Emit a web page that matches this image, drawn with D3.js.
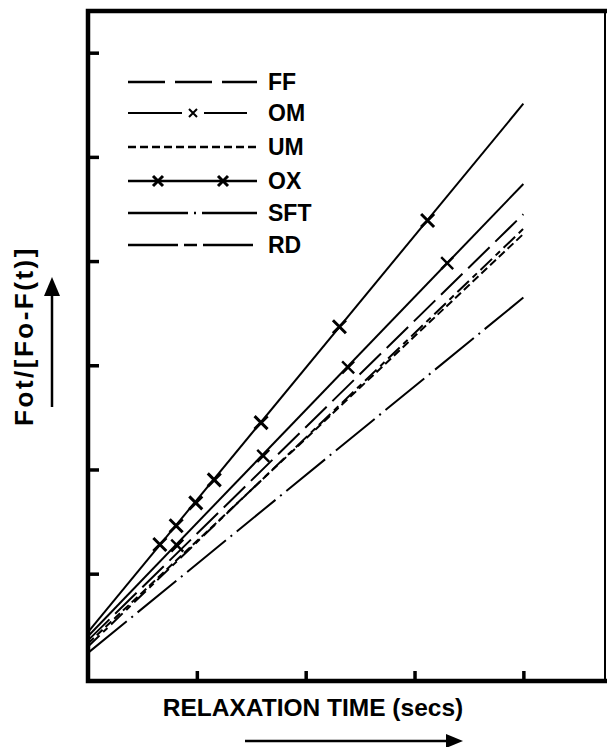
<!DOCTYPE html>
<meta charset="utf-8">
<title>Relaxation time</title>
<style>
  body { margin: 0; background: #fff; }
  text { font-family: "Liberation Sans", Arial, sans-serif; font-weight: bold; fill: #000; }
</style>
<body>
  <script src="https://d3js.org/d3.v7.min.js"></script>
  <script>
    const width = 607;
    const height = 747;

    // series (y at x = 0 and at x = 4)
    const seriesNames = ["FF", "OM", "UM", "OX", "SFT", "RD"];
    const startY = [0.36, 0.40, 0.33, 0.44, 0.24, 0.30];
    const endY = [4.45, 4.74, 4.26, 5.51, 3.65, 4.31];
    const startX = 0;
    const endX = 4;

    // marked points
    const oxMarkX = [0.66, 0.81, 0.99, 1.16, 1.59, 2.31, 3.12];
    const oxMarkY = [1.28, 1.46, 1.68, 1.90, 2.45, 3.37, 4.39];
    const omMarkX = [0.82, 1.61, 2.39, 3.30];
    const omMarkY = [1.27, 2.13, 2.98, 3.98];

    const xTicks = [1, 2, 3, 4];
    const yTicks = [1, 2, 3, 4, 5, 6];

    // dash styles for each series
    const dashes = {
      FF: "30,8",
      OM: null,
      UM: "8,4",
      OX: null,
      SFT: "50,6,2,6",
      RD: "16,5,6,5"
    };
    // legend samples only show one break
    const legDashes = {
      FF: "37,10",
      UM: "8,4",
      OX: null,
      SFT: "60,6,2,6",
      RD: "50,6,13,6"
    };

    const svg = d3.select("body")
    .append("svg")
    .attr("width", width)
    .attr("height", height);

    const xScale = d3.scaleLinear()
    .domain([0, 4.75])
    .range([88, 605]);

    const yScale = d3.scaleLinear()
    .domain([-0.03, 6.4])
    .range([681, 11]);

    // series lines
    const lineData = seriesNames.map((n, i) => ({
      name: n,
      pts: [[startX, startY[i]], [endX, endY[i]]]
    }));

    const line = d3.line()
    .x(d => xScale(d[0]))
    .y(d => yScale(d[1]));

    svg.append("g")
    .selectAll("path")
    .data(lineData)
    .enter()
    .append("path")
    .attr("d", d => line(d.pts))
    .attr("fill", "none")
    .attr("stroke", "#000")
    .attr("stroke-width", 2)
    .attr("stroke-dasharray", d => dashes[d.name]);

    // x marker helper
    function cross(g, x, y, r, w) {
      g.append("path")
      .attr("d", `M${x - r},${y - r}L${x + r},${y + r}M${x - r},${y + r}L${x + r},${y - r}`)
      .attr("stroke", "#000")
      .attr("stroke-width", w)
      .attr("fill", "none");
    }

    const marks = svg.append("g");
    oxMarkX.forEach((v, i) => cross(marks, xScale(v), yScale(oxMarkY[i]), 6.5, 3));
    omMarkX.forEach((v, i) => cross(marks, xScale(v), yScale(omMarkY[i]), 6, 2.4));

    // frame
    svg.append("path")
    .attr("d", `M${xScale(0)},${yScale(6.4)}V${yScale(-0.03)}H${xScale(4.75)}M${xScale(0)},${yScale(6.4)}H${xScale(4.75)}`)
    .attr("fill", "none")
    .attr("stroke", "#000")
    .attr("stroke-width", 4.5)
    .attr("stroke-linecap", "square");
    svg.append("line")
    .attr("x1", xScale(4.75)).attr("x2", xScale(4.75))
    .attr("y1", yScale(6.4)).attr("y2", yScale(-0.03))
    .attr("stroke", "#000")
    .attr("stroke-width", 2);

    // inward ticks, no labels
    const xAxis = d3.axisTop(xScale).tickValues(xTicks).tickSize(10).tickFormat("");
    const yAxis = d3.axisRight(yScale).tickValues(yTicks).tickSize(11).tickFormat("");

    svg.append("g")
    .attr("transform", `translate(0,${yScale(-0.03)})`)
    .call(xAxis)
    .call(g => g.select(".domain").remove())
    .call(g => g.selectAll("line").attr("stroke-width", 3.5));

    svg.append("g")
    .attr("transform", `translate(${xScale(0)},0)`)
    .call(yAxis)
    .call(g => g.select(".domain").remove())
    .call(g => g.selectAll("line").attr("stroke-width", 3.5));

    // legend
    const legY = [82, 113, 147, 181, 213, 245];
    const leg = svg.append("g");
    seriesNames.forEach((n, i) => {
      const y = legY[i];
      if (n === "OM") {
        leg.append("path")
        .attr("d", `M128,${y}H182M204,${y}H247`)
        .attr("stroke", "#000").attr("stroke-width", 2.2);
        cross(leg, 193, y, 4, 2);
      } else {
        leg.append("line")
        .attr("x1", 128).attr("x2", 257)
        .attr("y1", y).attr("y2", y)
        .attr("stroke", "#000")
        .attr("stroke-width", 2.4)
        .attr("stroke-dasharray", legDashes[n]);
        if (n === "OX") {
          cross(leg, 158, y, 5, 3);
          cross(leg, 223, y, 5, 3);
        }
      }
      leg.append("text")
      .attr("x", 268)
      .attr("y", y + 8)
      .style("font-size", "23px")
      .text(n);
    });

    // axis titles
    svg.append("text")
    .attr("x", 313)
    .attr("y", 716)
    .attr("text-anchor", "middle")
    .style("font-size", "24.5px")
    .text("RELAXATION TIME (secs)");

    svg.append("text")
    .attr("transform", "translate(33,336) rotate(-90)")
    .attr("text-anchor", "middle")
    .style("font-size", "26px")
    .style("letter-spacing", "2.5px")
    .text("Fot/[Fo-F(t)]");

    // arrows
    svg.append("line")
    .attr("x1", 245).attr("x2", 450)
    .attr("y1", 741).attr("y2", 741)
    .attr("stroke", "#000").attr("stroke-width", 2.5);
    svg.append("path")
    .attr("d", "M446,734L463,741L446,748Z")
    .attr("fill", "#000");

    svg.append("line")
    .attr("x1", 52).attr("x2", 52)
    .attr("y1", 407).attr("y2", 290)
    .attr("stroke", "#000").attr("stroke-width", 2.5);
    svg.append("path")
    .attr("d", "M44,296L52,277L60,296Z")
    .attr("fill", "#000");
  </script>
</body>
